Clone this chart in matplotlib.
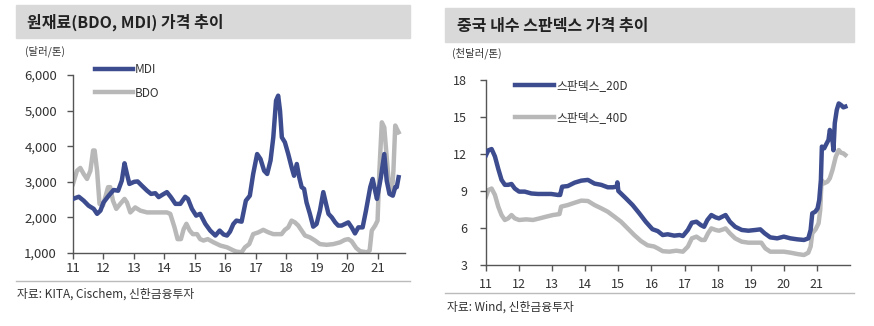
import matplotlib
matplotlib.use('Agg')
import matplotlib.pyplot as plt
from matplotlib.patches import Rectangle
from matplotlib.lines import Line2D

plt.rcParams['font.family'] = ['Noto Sans CJK KR', 'DejaVu Sans']

# ---- left chart: BDO / MDI (USD/ton), x in years (11 = 2011)
mdi_x = [11.0, 11.19, 11.35, 11.51, 11.68, 11.79, 11.9, 12.0, 12.17, 12.33, 12.48, 12.6, 12.69, 12.77,
         12.85, 13.01, 13.12, 13.26, 13.43, 13.56, 13.7, 13.81, 13.94, 14.08, 14.21, 14.36, 14.52, 14.68,
         14.77, 14.9, 15.04, 15.17, 15.34, 15.5, 15.67, 15.81, 15.94, 16.05, 16.15, 16.26, 16.36, 16.53,
         16.67, 16.8, 16.91, 17.04, 17.15, 17.27, 17.37, 17.48, 17.57, 17.66, 17.73, 17.79, 17.85, 17.95,
         18.06, 18.17, 18.25, 18.34, 18.42, 18.5, 18.58, 18.66, 18.77, 18.88, 18.99, 19.1, 19.21, 19.3,
         19.38, 19.49, 19.6, 19.7, 19.81, 19.92, 20.03, 20.14, 20.25, 20.36, 20.5, 20.61, 20.75, 20.83,
         20.91, 20.97, 21.1, 21.21, 21.29, 21.38, 21.49, 21.57, 21.62, 21.68]
mdi_y = [2520, 2580, 2470, 2330, 2240, 2100, 2190, 2420, 2610, 2770, 2750, 3030, 3520, 3220,
         2940, 3000, 3010, 2890, 2750, 2660, 2680, 2570, 2640, 2710, 2570, 2380, 2380, 2580,
         2520, 2240, 2050, 2100, 1820, 1630, 1490, 1630, 1520, 1490, 1600, 1815, 1910, 1880,
         2470, 2610, 3220, 3780, 3640, 3310, 3220, 3600, 4250, 5280, 5420, 5000, 4250, 4110,
         3780, 3410, 3170, 3500, 3130, 2850, 2800, 2420, 2100, 1740, 1815, 2190, 2710, 2380,
         2100, 2000, 1860, 1770, 1770, 1815, 1860, 1720, 1550, 1720, 1720, 2190, 2850, 3080,
         2750, 2520, 3130, 3780, 3030, 2660, 2610, 2850, 2850, 3130]

bdo_x = [11.0, 11.13, 11.24, 11.35, 11.46, 11.57, 11.66, 11.71, 11.79, 11.87, 11.98, 12.06, 12.15, 12.22,
         12.31, 12.42, 12.55, 12.69, 12.77, 12.88, 13.04, 13.21, 13.43, 13.64, 13.86, 14.08, 14.19, 14.33,
         14.43, 14.54, 14.63, 14.72, 14.83, 14.93, 15.07, 15.17, 15.28, 15.42, 15.61, 15.83, 16.05, 16.27,
         16.36, 16.53, 16.64, 16.78, 16.91, 17.08, 17.24, 17.41, 17.57, 17.73, 17.84, 17.95, 18.06, 18.17,
         18.28, 18.39, 18.5, 18.61, 18.77, 18.94, 19.1, 19.32, 19.54, 19.76, 19.92, 20.03, 20.14, 20.29,
         20.42, 20.64, 20.73, 20.8, 20.91, 20.99, 21.05, 21.13, 21.21, 21.29, 21.38, 21.46, 21.51, 21.57,
         21.65, 21.68]
bdo_y = [2940, 3310, 3390, 3220, 3080, 3310, 3880, 3880, 3310, 2380, 2330, 2570, 2850, 2850,
         2470, 2240, 2380, 2520, 2420, 2140, 2280, 2190, 2140, 2140, 2140, 2140, 2100, 1720,
         1390, 1390, 1670, 1820, 1630, 1530, 1530, 1390, 1350, 1390, 1300, 1210, 1160, 1070,
         1040, 1020, 1160, 1250, 1530, 1580, 1650, 1580, 1530, 1530, 1530, 1650, 1720, 1910,
         1860, 1770, 1630, 1490, 1440, 1350, 1250, 1230, 1250, 1300, 1370, 1390, 1330, 1140,
         1050, 1020, 1070, 1630, 1770, 1910, 3310, 4670, 4530, 3690, 2750, 2660, 3310, 4580,
         4440, 4390]

# ---- right chart: spandex 20D / 40D (thousand USD/ton)
sp20_x = [11.0, 11.07, 11.17, 11.27, 11.37, 11.47, 11.57, 11.67, 11.77, 11.87, 12.0, 12.17, 12.37, 12.57,
          12.77, 12.97, 13.17, 13.24, 13.3, 13.47, 13.68, 13.88, 14.08, 14.28, 14.48, 14.68, 14.83, 14.95,
          14.97, 15.0, 15.23, 15.43, 15.63, 15.83, 16.03, 16.19, 16.34, 16.49, 16.69, 16.85, 16.95, 17.1,
          17.22, 17.36, 17.49, 17.59, 17.69, 17.81, 17.94, 18.04, 18.14, 18.24, 18.37, 18.53, 18.73, 18.93,
          19.14, 19.29, 19.42, 19.59, 19.8, 20.0, 20.2, 20.41, 20.61, 20.74, 20.81, 20.86, 20.95, 21.02,
          21.07, 21.12, 21.15, 21.22, 21.27, 21.35, 21.39, 21.46, 21.5, 21.54, 21.6, 21.66, 21.73, 21.8,
          21.86]
sp20_y = [11.9, 12.3, 12.4, 11.8, 10.8, 9.9, 9.5, 9.5, 9.57, 9.2, 8.95, 8.95, 8.8, 8.76,
          8.76, 8.76, 8.68, 8.68, 9.35, 9.4, 9.68, 9.84, 9.9, 9.6, 9.5, 9.3, 9.3, 9.35,
          9.7, 9.0, 8.4, 7.86, 7.2, 6.5, 5.9, 5.75, 5.43, 5.49, 5.38, 5.43, 5.35, 5.84,
          6.43, 6.51, 6.24, 6.1, 6.65, 7.05, 6.86, 6.78, 6.92, 7.05, 6.51, 6.1, 5.84, 5.78,
          5.84, 5.89, 5.57, 5.24, 5.16, 5.3, 5.16, 5.08, 5.03, 5.16, 5.84, 7.19, 7.32, 7.59,
          8.27, 9.89, 12.6, 12.46, 12.73, 13.14, 13.95, 13.4, 12.3, 14.5, 15.57, 16.1, 15.97, 15.78,
          15.84]

sp40_x = [11.0, 11.07, 11.17, 11.27, 11.37, 11.47, 11.57, 11.67, 11.77, 11.87, 12.0, 12.22, 12.42, 12.62,
          12.82, 13.02, 13.22, 13.27, 13.47, 13.68, 13.88, 14.08, 14.28, 14.48, 14.68, 14.88, 15.08, 15.28,
          15.48, 15.68, 15.88, 16.08, 16.19, 16.34, 16.54, 16.75, 16.95, 17.1, 17.22, 17.36, 17.51, 17.61,
          17.71, 17.81, 17.94, 18.04, 18.17, 18.24, 18.37, 18.53, 18.73, 18.93, 19.14, 19.32, 19.44, 19.59,
          19.8, 20.0, 20.2, 20.41, 20.61, 20.74, 20.81, 20.86, 20.96, 21.05, 21.1, 21.14, 21.22, 21.32,
          21.39, 21.47, 21.57, 21.66, 21.73, 21.8, 21.86]
sp40_y = [8.54, 9.08, 9.2, 8.68, 7.73, 7.05, 6.65, 6.78, 7.05, 6.78, 6.65, 6.7, 6.65, 6.78,
          6.92, 7.05, 7.13, 7.73, 7.86, 8.05, 8.22, 8.19, 7.86, 7.6, 7.32, 6.92, 6.51, 5.97,
          5.43, 4.95, 4.6, 4.5, 4.35, 4.12, 4.08, 4.16, 4.08, 4.49, 5.16, 5.3, 5.03, 5.03,
          5.57, 5.97, 5.84, 5.78, 5.89, 5.97, 5.57, 5.16, 4.89, 4.81, 4.81, 4.81, 4.35, 4.08,
          4.08, 4.08, 4.0, 3.89, 3.81, 4.0, 4.49, 5.57, 5.89, 6.38, 7.46, 9.89, 9.62, 9.76,
          10.03, 10.7, 11.78, 12.32, 12.1, 12.05, 11.92]

year_ticks = list(range(11, 22))
blue = '#3C4C8E'
grey = '#B8B8B8'
txt = '#333333'

W, H = 874, 326
fig = plt.figure(figsize=(W / 100, H / 100), dpi=100)


def fx(px):
    return px / W


def fy(py):
    return 1 - py / H


def style_axes(ax, size):
    for s in ['top', 'right']:
        ax.spines[s].set_visible(False)
    for s in ['left', 'bottom']:
        ax.spines[s].set_color('#555555')
        ax.spines[s].set_linewidth(1.0)
    ax.tick_params(direction='out', length=4.5, width=1.0, color='#555555',
                   labelsize=size, labelcolor=txt)
    ax.set_xticks(year_ticks)
    ax.set_xticklabels([str(t) for t in year_ticks])
    ax.patch.set_alpha(0)


# title boxes, separator lines and captions
fig.patches.append(Rectangle((fx(16), fy(38)), fx(410 - 16), (38 - 5) / H,
                             transform=fig.transFigure, color='#D9D9D9', zorder=0))
fig.patches.append(Rectangle((fx(445), fy(42)), fx(854 - 445), (42 - 8) / H,
                             transform=fig.transFigure, color='#D9D9D9', zorder=0))
fig.add_artist(Line2D([fx(16), fx(410)], [fy(281), fy(281)], color='#BBBBBB', lw=1))
fig.add_artist(Line2D([fx(445), fx(854)], [fy(293), fy(293)], color='#BBBBBB', lw=1))

fig.text(fx(27), fy(22), '원재료(BDO, MDI) 가격 추이', fontsize=11.5, fontweight='bold',
         color='#222222', va='center')
fig.text(fx(457), fy(26), '중국 내수 스판덱스 가격 추이', fontsize=11.5, fontweight='bold',
         color='#222222', va='center')
fig.text(fx(25), fy(51), '(달러/톤)', fontsize=7.5, color=txt, va='center')
fig.text(fx(452), fy(53), '(천달러/톤)', fontsize=7.5, color=txt, va='center')
fig.text(fx(17), fy(294), '자료: KITA, Cischem, 신한금융투자', fontsize=8.5, color=txt, va='center')
fig.text(fx(447), fy(307), '자료: Wind, 신한금융투자', fontsize=8.5, color=txt, va='center')

# left chart
ax1 = fig.add_axes([fx(73), fy(253), fx(405 - 73), (253 - 75) / H])
ax1.plot(mdi_x, mdi_y, color=blue, lw=3.2, label='MDI', solid_joinstyle='round', zorder=3)
ax1.plot(bdo_x, bdo_y, color=grey, lw=3.2, label='BDO', solid_joinstyle='round', zorder=2)
ax1.set_xlim(11, 21.89)
ax1.set_ylim(1000, 6000)
ax1.set_yticks([1000, 2000, 3000, 4000, 5000, 6000])
ax1.set_yticklabels(['{:,}'.format(v) for v in [1000, 2000, 3000, 4000, 5000, 6000]])
style_axes(ax1, 9.5)
ax1.tick_params(axis='y', pad=7)
ax1.tick_params(axis='x', pad=2)
ax1.legend(loc='upper left', bbox_to_anchor=(fx(95), fy(63)), bbox_transform=fig.transFigure,
           frameon=False, fontsize=8.5, handlelength=3.2, handletextpad=0.2, labelspacing=0.9,
           borderpad=0, borderaxespad=0, labelcolor=txt)

# right chart
ax2 = fig.add_axes([fx(486), fy(265), fx(850 - 486), (265 - 80) / H])
ax2.plot(sp20_x, sp20_y, color=blue, lw=3.2, label='스판덱스_20D', solid_joinstyle='round', zorder=3)
ax2.plot(sp40_x, sp40_y, color=grey, lw=3.2, label='스판덱스_40D', solid_joinstyle='round', zorder=2)
ax2.set_xlim(11, 22)
ax2.set_ylim(3, 18)
ax2.set_yticks([3, 6, 9, 12, 15, 18])
style_axes(ax2, 9)
ax2.tick_params(axis='y', pad=9)
ax2.tick_params(axis='x', pad=5)
ax2.legend(loc='upper left', bbox_to_anchor=(fx(515), fy(79)), bbox_transform=fig.transFigure,
           frameon=False, fontsize=8.5, handlelength=3.3, handletextpad=0.2, labelspacing=1.6,
           borderpad=0, borderaxespad=0, labelcolor=txt)

plt.savefig('out.png', dpi=100)
